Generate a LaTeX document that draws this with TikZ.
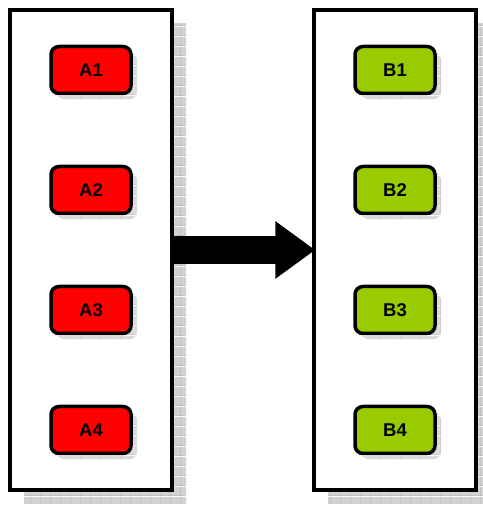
\documentclass[tikz,border=0pt]{standalone}
\usepackage{fontspec}
\setmainfont{Liberation Sans}
\usepackage{tikz}
\usetikzlibrary{shadows,patterns,arrows.meta}
\definecolor{myRed}{RGB}{255,0,0}
\definecolor{myGreen}{RGB}{153,204,0}

% grey hatched fill for the shadows
\pgfdeclarepatterninherentlycolored{shadowgrid}{\pgfpointorigin}{\pgfqpoint{10pt}{10pt}}{\pgfqpoint{10pt}{10pt}}{%
	\pgfsetfillcolor{gray!35}
	\pgfpathrectangle{\pgfpointorigin}{\pgfqpoint{10pt}{10pt}}
	\pgfusepath{fill}
	\pgfsetstrokecolor{gray!70}
	\pgfsetlinewidth{1pt}
	\pgfpathmoveto{\pgfqpoint{0pt}{0pt}}\pgfpathlineto{\pgfqpoint{10pt}{0pt}}
	\pgfpathmoveto{\pgfqpoint{0pt}{0pt}}\pgfpathlineto{\pgfqpoint{0pt}{10pt}}
	\pgfusepath{stroke}}

\begin{document}
\begin{tikzpicture}[%
	x=1pt, y=1pt,
	every node/.style={
		font=\fontsize{18.5}{22}\selectfont\bfseries,
	},
	panel/.style={
		draw, line width=3.5pt, fill=white,
		minimum width=162pt, minimum height=480pt,
		drop shadow={shadow xshift=14pt, shadow yshift=-14pt, opacity=1, pattern=shadowgrid},
	},
	item/.style={
		draw, line width=3.5pt, rounded corners=8pt,
		minimum width=80pt, minimum height=47pt,
		drop shadow={shadow xshift=6pt, shadow yshift=-6pt, opacity=.8, pattern=shadowgrid},
	},
	bigarrow/.style={
		line width=28pt, shorten >=-3pt,
		-{Triangle[length=40pt,width=55pt]},
	},
	]
	\useasboundingbox (0,0) rectangle (482,505);
	
	% the two panels
	\node[panel] (left) at (91,255) {};
	\node[panel] (right) at (395,255) {};
	
	% boxes in each panel
	\foreach \i/\y in {1/435,2/315,3/195,4/75}{
		\node[item, fill=myRed] (a\i) at (91,\y) {A\i};
		\node[item, fill=myGreen] (b\i) at (395,\y) {B\i};
	}
	
	% arrow between the panels
	\draw[bigarrow] (left.east) -- (right.west);
\end{tikzpicture}
\end{document}
